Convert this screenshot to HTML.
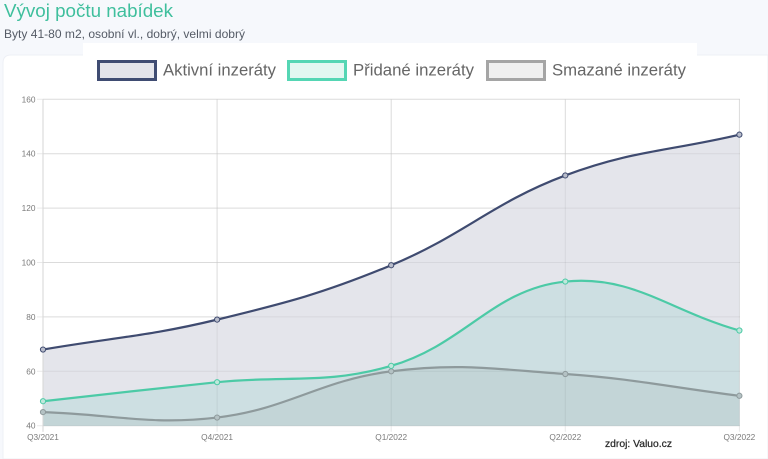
<!DOCTYPE html>
<html><head><meta charset="utf-8">
<style>
html,body{margin:0;padding:0;width:768px;height:459px;overflow:hidden;background:#f6f8fc;}
svg{display:block;font-family:"Liberation Sans",Arial,sans-serif;}
</style></head>
<body>
<svg id="c" width="768" height="459" viewBox="0 0 768 459" xmlns="http://www.w3.org/2000/svg">
<rect x="0" y="0" width="768" height="459" fill="#f6f8fc"/>
<path d="M3,459 L3,63 Q3,55 11,55 L768,55 L768,459 Z" fill="#ffffff" stroke="#eef0f6" stroke-width="1"/>
<rect x="83" y="43" width="614" height="14" fill="#ffffff"/>
<text x="4" y="17" font-size="18.5" fill="#3fbf9d" textLength="169" lengthAdjust="spacingAndGlyphs">Vývoj počtu nabídek</text>
<text x="4" y="38" font-size="12" fill="#555b66" textLength="241" lengthAdjust="spacingAndGlyphs">Byty 41-80 m2, osobní vl., dobrý, velmi dobrý</text>

<rect x="98.5" y="61.5" width="57" height="18" fill="#e3e4ea" stroke="#3f4c72" stroke-width="3"/>
<text x="163" y="75.5" font-size="17" fill="#666" textLength="113" lengthAdjust="spacingAndGlyphs">Aktivní inzeráty</text>
<rect x="288.5" y="61.5" width="57" height="18" fill="#e3f7f1" stroke="#55d6b4" stroke-width="3"/>
<text x="353" y="75.5" font-size="17" fill="#666" textLength="121" lengthAdjust="spacingAndGlyphs">Přidané inzeráty</text>
<rect x="487.5" y="61.5" width="57" height="18" fill="#f0f0f0" stroke="#a5a5a5" stroke-width="3"/>
<text x="552" y="75.5" font-size="17" fill="#666" textLength="134" lengthAdjust="spacingAndGlyphs">Smazané inzeráty</text>

<g id="plot"></g>

<text x="605" y="447" font-size="10.5" fill="#2a2a2a" stroke="#2a2a2a" stroke-width="0.25" textLength="67" lengthAdjust="spacingAndGlyphs">zdroj: Valuo.cz</text>
</svg>
<script>
(function(){
var NS="http://www.w3.org/2000/svg";
var g=document.getElementById("plot");
var L=43,R=740,T=99.3,B=425.7;
var xs=[];for(var i=0;i<5;i++)xs.push(43+174.1*i);
function Y(v){return B-(v-40)*(B-T)/120;}
function el(name,attrs,txt){var e=document.createElementNS(NS,name);for(var k in attrs)e.setAttribute(k,attrs[k]);if(txt!==undefined)e.textContent=txt;g.appendChild(e);return e;}
function cl(v,a,b){return Math.max(a,Math.min(b,v));}
function curve(vals){
 var pts=vals.map(function(v,i){return {x:xs[i],y:Y(v)};});
 var n=pts.length,c=[];
 for(var i=0;i<n;i++){
  var p=pts[i],pr=i>0?pts[i-1]:p,nx=i<n-1?pts[i+1]:p;
  var d01=Math.hypot(p.x-pr.x,p.y-pr.y),d12=Math.hypot(nx.x-p.x,nx.y-p.y);
  var s01=d01/(d01+d12),s12=d12/(d01+d12);
  if(isNaN(s01))s01=0;if(isNaN(s12))s12=0;
  var fa=0.4*s01,fb=0.4*s12;
  c.push({p:{x:cl(p.x-fa*(nx.x-pr.x),L,R),y:cl(p.y-fa*(nx.y-pr.y),T,B)},
          n:{x:cl(p.x+fb*(nx.x-pr.x),L,R),y:cl(p.y+fb*(nx.y-pr.y),T,B)}});
 }
 var d="M"+pts[0].x.toFixed(2)+","+pts[0].y.toFixed(2);
 for(var i=1;i<n;i++){
  d+=" C"+c[i-1].n.x.toFixed(2)+","+c[i-1].n.y.toFixed(2)+" "+c[i].p.x.toFixed(2)+","+c[i].p.y.toFixed(2)+" "+pts[i].x.toFixed(2)+","+pts[i].y.toFixed(2);
 }
 return {d:d,pts:pts,area:d+" L"+pts[n-1].x.toFixed(2)+","+B+" L"+pts[0].x.toFixed(2)+","+B+" Z"};
}
var act=curve([68,79,99,132,147]);
var add=curve([49,56,62,93,75]);
var del=curve([45,43,60,59,51]);

var ticks=[160,140,120,100,80,60,40];
ticks.forEach(function(v){var y=Y(v);el("line",{x1:37,y1:y,x2:R,y2:y,stroke:"#e9e9e9","stroke-width":1});
 el("text",{x:35.5,y:y+3,"font-size":"8.3",fill:"#7a7a7a","text-anchor":"end"},String(v));});
xs.forEach(function(x){el("line",{x1:x,y1:T,x2:x,y2:B+6,stroke:"#e9e9e9","stroke-width":1});});

el("path",{d:act.area,fill:"#e4e5eb"});
el("path",{d:add.area,fill:"#cddfe2"});
el("path",{d:del.area,fill:"#c3d5d7"});

ticks.forEach(function(v){var y=Y(v);el("line",{x1:L,y1:y,x2:R,y2:y,stroke:"rgba(0,0,0,0.06)","stroke-width":1});});
xs.forEach(function(x){el("line",{x1:x,y1:T,x2:x,y2:B,stroke:"rgba(0,0,0,0.06)","stroke-width":1});});
el("line",{x1:L,y1:T,x2:L,y2:B+6,stroke:"#d6d6d6","stroke-width":1});

var labs=["Q3/2021","Q4/2021","Q1/2022","Q2/2022","Q3/2022"];
xs.forEach(function(x,i){el("text",{x:x,y:440,"font-size":"8.3",fill:"#7a7a7a","text-anchor":"middle"},labs[i]);});

el("path",{d:del.d,fill:"none",stroke:"#8e9a9c","stroke-width":2.2});
el("path",{d:add.d,fill:"none",stroke:"#4ccaa6","stroke-width":2.2});
el("path",{d:act.d,fill:"none",stroke:"#3f4b70","stroke-width":2.2});
function dots(c,f,s){c.pts.forEach(function(p){el("circle",{cx:p.x,cy:p.y,r:2.6,fill:f,stroke:s,"stroke-width":1});});}
dots(del,"#b4c2c4","#8e9a9c");
dots(add,"#bfe8dc","#4ccaa6");
dots(act,"#b9bdcb","#3f4b70");
})();
</script>
</body></html>
